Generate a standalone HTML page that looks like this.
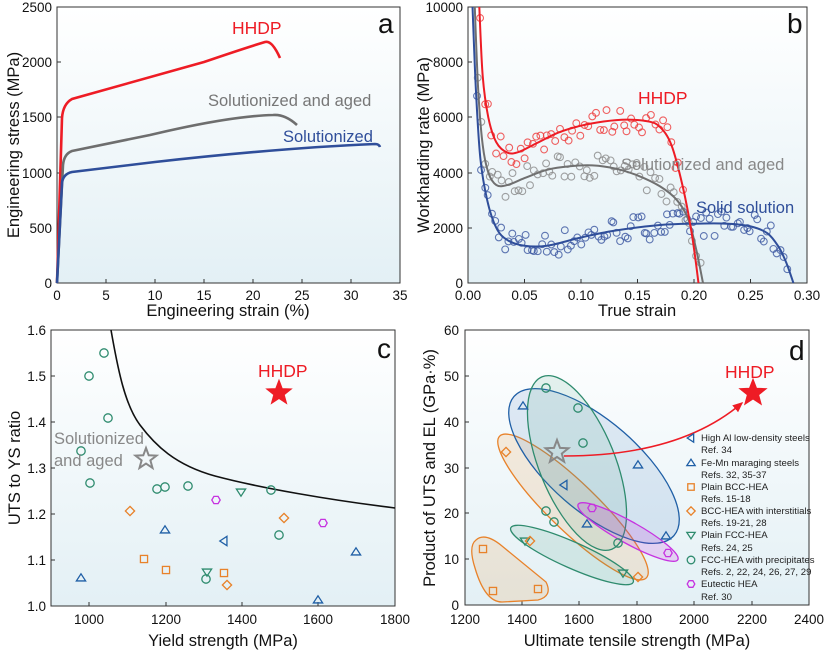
<!DOCTYPE html>
<html><head><meta charset="utf-8"><style>
html,body{margin:0;padding:0;background:#fff}
svg{display:block;font-family:"Liberation Sans",Arial,sans-serif}
.t{font-size:13.5px;fill:#111}
.at{font-size:16.5px;fill:#111}
.lg{font-size:9.6px;fill:#222}
</style></head><body>
<svg id="s" width="827" height="654" viewBox="0 0 827 654" xmlns="http://www.w3.org/2000/svg">
<defs>
<linearGradient id="bg" x1="0" y1="0" x2="0" y2="1"><stop offset="0" stop-color="#ffffff"/><stop offset="1" stop-color="#e3f0f5"/></linearGradient>
<marker id="ah" markerWidth="8" markerHeight="8" refX="6" refY="4" orient="auto"><path d="M0,1 L7,4 L0,7 z" fill="#ee1c25"/></marker>
</defs>
<!-- Panel a -->
<rect x="57" y="7" width="343" height="276" fill="url(#bg)" stroke="#333" stroke-width="1"/>
<g stroke="#333" stroke-width="1">
<path d="M57,283v-4M106,283v-4M155,283v-4M204,283v-4M253,283v-4M302,283v-4M351,283v-4M57,283h4M57,228h4M57,173h4M57,117h4M57,62h4M57,7h4"/>
</g>
<g class="t" text-anchor="end"><text x="52" y="288">0</text><text x="52" y="233">500</text><text x="52" y="178">1000</text><text x="52" y="122">1500</text><text x="52" y="67">2000</text><text x="52" y="12">2500</text></g>
<g class="t" text-anchor="middle"><text x="57" y="300">0</text><text x="106" y="300">5</text><text x="155" y="300">10</text><text x="204" y="300">15</text><text x="253" y="300">20</text><text x="302" y="300">25</text><text x="351" y="300">30</text><text x="400" y="300">35</text></g>
<text class="at" x="228" y="316" text-anchor="middle">Engineering strain (%)</text>
<text class="at" x="0" y="0" text-anchor="middle" transform="translate(19,145) rotate(-90)">Engineering stress (MPa)</text>
<path d="M57,283 L62,118 Q63,104 72,99 L204,62 Q245,48 265,42 Q272,40 280,58" fill="none" stroke="#ee1c25" stroke-width="2.6"/>
<path d="M57,283 L63,165 Q64,154 72,151 L150,135 Q230,116 273,115 Q285,114 297,125" fill="none" stroke="#6e6e6e" stroke-width="2.6"/>
<path d="M57,283 L62,183 Q63,174 72,172 L155,162 Q280,148 375,144 Q379,144 380,147" fill="none" stroke="#2f4e9a" stroke-width="2.6"/>
<text x="232" y="34" font-size="17.5" fill="#ee1c25">HHDP</text>
<text x="208" y="106" font-size="16.5" fill="#777">Solutionized and aged</text>
<text x="283" y="142" font-size="16.5" fill="#2f4e9a">Solutionized</text>
<text x="378" y="33" font-size="28" fill="#111">a</text>

<!-- Panel b -->
<rect x="468" y="7" width="339" height="276" fill="url(#bg)" stroke="#333" stroke-width="1"/>
<g stroke="#333" stroke-width="1"><path d="M468,283v-4M524.5,283v-4M581,283v-4M637.5,283v-4M694,283v-4M750.5,283v-4M468,283h4M468,228h4M468,173h4M468,117h4M468,62h4"/></g>
<g class="t" text-anchor="end"><text x="463" y="288">0</text><text x="463" y="233">2000</text><text x="463" y="178">4000</text><text x="463" y="122">6000</text><text x="463" y="67">8000</text><text x="463" y="12">10000</text></g>
<g class="t" text-anchor="middle"><text x="468" y="300">0.00</text><text x="524.5" y="300">0.05</text><text x="581" y="300">0.10</text><text x="637.5" y="300">0.15</text><text x="694" y="300">0.20</text><text x="750.5" y="300">0.25</text><text x="807" y="300">0.30</text></g>
<text class="at" x="637" y="316" text-anchor="middle">True strain</text>
<text class="at" x="0" y="0" text-anchor="middle" transform="translate(429,145) rotate(-90)">Workharding rate (MPa)</text>
<g id="bplot"></g>
<text x="638" y="104" font-size="17.5" fill="#ee1c25">HHDP</text>
<text x="621" y="170" font-size="16.5" fill="#888">Solutionized and aged</text>
<text x="696" y="213" font-size="16.5" fill="#2f4e9a">Solid solution</text>
<text x="787" y="33" font-size="28" fill="#111">b</text>

<!-- Panel c -->
<rect x="51" y="330" width="344" height="276" fill="url(#bg)" stroke="#333" stroke-width="1"/>
<g stroke="#333" stroke-width="1"><path d="M89,606v-4M166,606v-4M242,606v-4M318,606v-4M51,606h4M51,560h4M51,514h4M51,468h4M51,422h4M51,376h4"/></g>
<g class="t" text-anchor="end"><text x="46" y="611">1.0</text><text x="46" y="565">1.1</text><text x="46" y="519">1.2</text><text x="46" y="473">1.3</text><text x="46" y="427">1.4</text><text x="46" y="381">1.5</text><text x="46" y="335">1.6</text></g>
<g class="t" text-anchor="middle"><text x="89" y="624">1000</text><text x="166" y="624">1200</text><text x="242" y="624">1400</text><text x="318" y="624">1600</text><text x="395" y="624">1800</text></g>
<text class="at" x="223" y="646" text-anchor="middle">Yield strength (MPa)</text>
<text class="at" x="0" y="0" text-anchor="middle" transform="translate(20,468) rotate(-90)">UTS to YS ratio</text>
<path d="M111,330 C118,370 125,405 140,425 C155,445 175,465 215,476 C260,488 330,500 395,508" fill="none" stroke="#111" stroke-width="1.6"/>
<g id="cm"></g>
<text x="258" y="377" font-size="17.5" fill="#ee1c25">HHDP</text>
<text x="54" y="444" font-size="16.5" fill="#888">Solutionized</text>
<text x="54" y="466" font-size="16.5" fill="#888">and aged</text>
<text x="377" y="358" font-size="28" fill="#111">c</text>

<!-- Panel d -->
<rect x="465" y="330" width="344" height="275" fill="url(#bg)" stroke="#333" stroke-width="1"/>
<g stroke="#333" stroke-width="1"><path d="M522,605v-4M579,605v-4M637,605v-4M694,605v-4M752,605v-4M465,605h4M465,559h4M465,513h4M465,468h4M465,422h4M465,376h4"/></g>
<g class="t" text-anchor="end"><text x="459" y="610">0</text><text x="459" y="564">10</text><text x="459" y="518">20</text><text x="459" y="473">30</text><text x="459" y="427">40</text><text x="459" y="381">50</text><text x="459" y="335">60</text></g>
<g class="t" text-anchor="middle"><text x="465" y="624">1200</text><text x="522" y="624">1400</text><text x="579" y="624">1600</text><text x="637" y="624">1800</text><text x="694" y="624">2000</text><text x="752" y="624">2200</text><text x="809" y="624">2400</text></g>
<text class="at" x="637" y="646" text-anchor="middle">Ultimate tensile strength (MPa)</text>
<text class="at" x="0" y="0" text-anchor="middle" transform="translate(435,468) rotate(-90)">Product of UTS and EL (GPa·%)</text>
<g stroke-width="1.3">
<ellipse cx="573" cy="507" rx="102" ry="24" transform="rotate(44 573 507)" fill="#f0a050" fill-opacity="0.18" stroke="#e8822a"/>
<ellipse cx="594" cy="466" rx="106" ry="45" transform="rotate(41 594 466)" fill="#4a80c0" fill-opacity="0.15" stroke="#1f5fa6"/>
<ellipse cx="577" cy="463" rx="93" ry="38" transform="rotate(68 577 463)" fill="#4aa080" fill-opacity="0.13" stroke="#2e8b6e"/>
<ellipse cx="572" cy="555" rx="67" ry="13" transform="rotate(24 572 555)" fill="#4aa080" fill-opacity="0.15" stroke="#2e8b6e"/>
<ellipse cx="628" cy="532" rx="57" ry="11" transform="rotate(29 628 532)" fill="#c633e0" fill-opacity="0.18" stroke="#c633e0"/>
<path d="M476,540 Q468,546 475,568 Q485,602 502,602 L538,600 Q553,596 546,582 L502,546 Q485,532 476,540 Z" fill="#f0a050" fill-opacity="0.18" stroke="#e8822a"/>
</g>
<path d="M564,456 Q680,456 742,403" fill="none" stroke="#ee1c25" stroke-width="1.5" marker-end="url(#ah)"/>
<g id="dm"></g>
<text x="725" y="378" font-size="17.5" fill="#ee1c25">HHDP</text>
<text x="789" y="360" font-size="28" fill="#111">d</text>
<g class="lg">
<text x="701" y="441">High Al low-density steels</text><text x="701" y="453">Ref. 34</text>
<text x="701" y="466">Fe-Mn maraging steels</text><text x="701" y="478">Refs. 32, 35-37</text>
<text x="701" y="490">Plain BCC-HEA</text><text x="701" y="502">Refs. 15-18</text>
<text x="701" y="514">BCC-HEA with interstitials</text><text x="701" y="526">Refs. 19-21, 28</text>
<text x="701" y="538">Plain FCC-HEA</text><text x="701" y="551">Refs. 24, 25</text>
<text x="701" y="563">FCC-HEA with precipitates</text><text x="701" y="575">Refs. 2, 22, 24, 26, 27, 29</text>
<text x="701" y="587">Eutectic HEA</text><text x="701" y="600">Ref. 30</text>
</g>
</svg>
<script>
(function(){
var NS="http://www.w3.org/2000/svg";
function el(p,t,a){var e=document.createElementNS(NS,t);for(var k in a)e.setAttribute(k,a[k]);p.appendChild(e);return e;}
var C={g:"#2e8b6e",b:"#1f5fa6",o:"#e8822a",p:"#c633e0",r:"#ee1c25",gr:"#777"};
function mk(p,type,x,y,c,s){s=s||4.2;var a={fill:"none",stroke:c,"stroke-width":1.3};
 if(type=="o"){a.cx=x;a.cy=y;a.r=s;el(p,"circle",a);}
 else if(type=="up"){a.d="M"+x+","+(y-s)+"L"+(x+s*1.1)+","+(y+s*0.7)+"L"+(x-s*1.1)+","+(y+s*0.7)+"Z";el(p,"path",a);}
 else if(type=="dn"){a.d="M"+x+","+(y+s)+"L"+(x+s*1.1)+","+(y-s*0.7)+"L"+(x-s*1.1)+","+(y-s*0.7)+"Z";el(p,"path",a);}
 else if(type=="lt"){a.d="M"+(x-s)+","+y+"L"+(x+s*0.7)+","+(y-s*1.1)+"L"+(x+s*0.7)+","+(y+s*1.1)+"Z";el(p,"path",a);}
 else if(type=="sq"){a.x=x-s*0.85;a.y=y-s*0.85;a.width=s*1.7;a.height=s*1.7;el(p,"rect",a);}
 else if(type=="di"){a.d="M"+x+","+(y-s*1.1)+"L"+(x+s*1.1)+","+y+"L"+x+","+(y+s*1.1)+"L"+(x-s*1.1)+","+y+"Z";el(p,"path",a);}
 else if(type=="hx"){var d="";for(var i=0;i<6;i++){var an=Math.PI/3*i;d+=(i?"L":"M")+(x+s*Math.cos(an))+","+(y+s*Math.sin(an));}a.d=d+"Z";el(p,"path",a);}
}
function star(p,x,y,R,fill,stroke,sw){var d="";for(var i=0;i<10;i++){var r=i%2?R*0.42:R;var an=-Math.PI/2+i*Math.PI/5;d+=(i?"L":"M")+(x+r*Math.cos(an)).toFixed(1)+","+(y+r*Math.sin(an)).toFixed(1);}el(p,"path",{d:d+"Z",fill:fill,stroke:stroke,"stroke-width":sw});}
var cm=document.getElementById("cm");
[[104,353],[89,376],[108,418],[81,451],[90,483],[157,489],[165,487],[188,486],[271,490],[279,535],[206,579]].forEach(function(q){mk(cm,"o",q[0],q[1],C.g);});
mk(cm,"dn",241,492,C.g);mk(cm,"dn",207,572,C.g);
mk(cm,"hx",216,500,C.p);mk(cm,"hx",323,523,C.p);
mk(cm,"di",130,511,C.o);mk(cm,"di",284,518,C.o);mk(cm,"di",227,585,C.o);
mk(cm,"sq",144,559,C.o);mk(cm,"sq",166,570,C.o);mk(cm,"sq",224,573,C.o);
mk(cm,"up",81,578,C.b);mk(cm,"up",165,530,C.b);mk(cm,"up",356,552,C.b);mk(cm,"up",318,600,C.b);
mk(cm,"lt",224,541,C.b);
star(cm,146,459,11,"none","#888",2);star(cm,279,393,13,"#ee1c25","#ee1c25",1);
var dm=document.getElementById("dm");
mk(dm,"up",523,406,C.b);mk(dm,"up",638,465,C.b);mk(dm,"up",587,524,C.b);mk(dm,"up",666,536,C.b);
mk(dm,"lt",564,485,C.b);
[[546,388],[578,408],[583,443],[546,511],[554,522],[618,543]].forEach(function(q){mk(dm,"o",q[0],q[1],C.g);});
mk(dm,"dn",623,573,C.g);mk(dm,"dn",525,541,C.g);
mk(dm,"di",506,452,C.o);mk(dm,"di",530,541,C.o);mk(dm,"di",638,577,C.o);
mk(dm,"sq",483,549,C.o);mk(dm,"sq",493,591,C.o);mk(dm,"sq",538,589,C.o);
mk(dm,"hx",592,508,C.p);mk(dm,"hx",668,553,C.p);
star(dm,557,452,12,"none","#888",2);star(dm,753,393,14,"#ee1c25","#ee1c25",1);
var ly=[438,463,487,511,535,560,584],lt=[["lt",C.b],["up",C.b],["sq",C.o],["di",C.o],["dn",C.g],["o",C.g],["hx",C.p]];
ly.forEach(function(y,i){mk(dm,lt[i][0],691,y,lt[i][1],3.8);});
var bp=document.getElementById("bplot");
function X(e){return 468+e*1130;}function Y(v){return 283-v*0.0276;}
var R=[[0.010,10000],[0.013,7500],[0.018,6000],[0.025,5100],[0.035,4720],[0.045,4750],[0.06,5050],[0.08,5450],[0.10,5700],[0.12,5850],[0.14,5920],[0.16,5850],[0.17,5650],[0.18,5000],[0.19,3500],[0.198,1800],[0.204,0]];
var G=[[0.006,10000],[0.009,7000],[0.013,5000],[0.018,4000],[0.025,3550],[0.035,3550],[0.05,3800],[0.07,4100],[0.09,4230],[0.11,4260],[0.13,4150],[0.15,3900],[0.17,3500],[0.185,3000],[0.195,2300],[0.202,1200],[0.208,0]];
var B=[[0.004,10000],[0.007,7000],[0.011,4500],[0.017,3000],[0.025,2000],[0.035,1550],[0.05,1350],[0.07,1350],[0.10,1650],[0.13,1900],[0.17,2100],[0.2,2150],[0.23,2150],[0.25,2050],[0.265,1800],[0.275,1300],[0.282,700],[0.288,0]];
function interp(P,e){for(var i=0;i<P.length-1;i++){if(e>=P[i][0]&&e<=P[i+1][0]){var t=(e-P[i][0])/(P[i+1][0]-P[i][0]);return P[i][1]+t*(P[i+1][1]-P[i][1]);}}return null;}
var seed=7;function rnd(){seed=(seed*16807)%2147483647;return seed/2147483647;}
function scat(P,e0,e1,n,col,amp){for(var i=0;i<n;i++){var e=e0+(e1-e0)*i/(n-1)+(rnd()-0.5)*0.002;var v=interp(P,e);if(v==null)continue;v+=(rnd()-0.5)*2*amp;if(v<0||v>10000)continue;el(bp,"circle",{cx:X(e).toFixed(1),cy:Y(v).toFixed(1),r:3.4,fill:"none",stroke:col,"stroke-width":1.1,"stroke-opacity":0.8});}}
scat(B,0.009,0.285,95,"#3b56a0",480);
scat(G,0.009,0.205,60,"#8a8a8a",450);
scat(R,0.011,0.19,52,"#ee3a3a",450);
function curve(P,col){var pts=P.map(function(q){return [X(q[0]),Y(q[1])];});var d="M"+pts[0][0]+","+pts[0][1];
 for(var i=0;i<pts.length-1;i++){var p0=pts[Math.max(0,i-1)],p1=pts[i],p2=pts[i+1],p3=pts[Math.min(pts.length-1,i+2)];
 d+="C"+(p1[0]+(p2[0]-p0[0])/6).toFixed(1)+","+(p1[1]+(p2[1]-p0[1])/6).toFixed(1)+" "+(p2[0]-(p3[0]-p1[0])/6).toFixed(1)+","+(p2[1]-(p3[1]-p1[1])/6).toFixed(1)+" "+p2[0].toFixed(1)+","+p2[1].toFixed(1);}
 el(bp,"path",{d:d,fill:"none",stroke:col,"stroke-width":2});}
curve(B,"#2f4e9a");curve(G,"#707070");curve(R,"#ee1c25");
})();
</script>
</body></html>
